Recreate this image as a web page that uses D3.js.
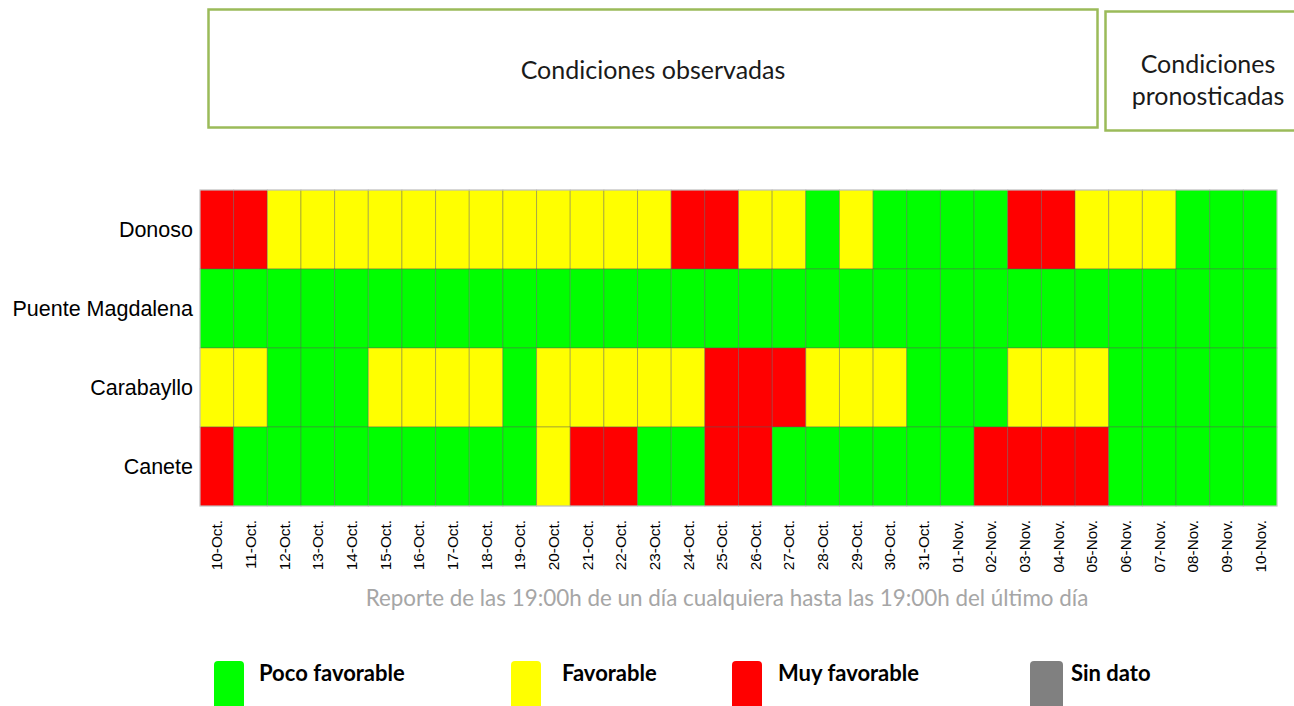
<!DOCTYPE html>
<html>
<head>
<meta charset="utf-8">
<script src="https://cdn.jsdelivr.net/npm/d3@7"></script>
<style>
  body { margin: 0; background: #fff; }
  svg { display: block; }
</style>
</head>
<body>
<div id="chart"></div>
<script>
var svgWidth = 1294;
var svgHeight = 706;

// Data
var fechas = ["10-Oct.", "11-Oct.", "12-Oct.", "13-Oct.", "14-Oct.", "15-Oct.", "16-Oct.", "17-Oct.",
  "18-Oct.", "19-Oct.", "20-Oct.", "21-Oct.", "22-Oct.", "23-Oct.", "24-Oct.", "25-Oct.", "26-Oct.",
  "27-Oct.", "28-Oct.", "29-Oct.", "30-Oct.", "31-Oct.", "01-Nov.", "02-Nov.", "03-Nov.", "04-Nov.",
  "05-Nov.", "06-Nov.", "07-Nov.", "08-Nov.", "09-Nov.", "10-Nov."];

var estaciones = ["Donoso", "Puente Magdalena", "Carabayllo", "Canete"];

// P = Poco favorable, F = Favorable, M = Muy favorable, S = Sin dato
var donoso = ["M","M","F","F","F","F","F","F","F","F","F","F","F","F","M","M",
  "F","F","P","F","P","P","P","P","M","M","F","F","F","P","P","P"];
var puenteMagdalena = ["P","P","P","P","P","P","P","P","P","P","P","P","P","P","P","P",
  "P","P","P","P","P","P","P","P","P","P","P","P","P","P","P","P"];
var carabayllo = ["F","F","P","P","P","F","F","F","F","P","F","F","F","F","F","M",
  "M","M","F","F","F","P","P","P","F","F","F","P","P","P","P","P"];
var canete = ["M","P","P","P","P","P","P","P","P","P","F","M","M","P","P","M",
  "M","P","P","P","P","P","P","M","M","M","M","P","P","P","P","P"];

var categorias = ["P", "F", "M", "S"];
var categoriaNombres = ["Poco favorable", "Favorable", "Muy favorable", "Sin dato"];
var categoriaColores = ["#00ff00", "#ffff00", "#ff0000", "#808080"];

var series = [donoso, puenteMagdalena, carabayllo, canete];

// build cells
var celdas = [];
estaciones.forEach(function (est, i) {
  series[i].forEach(function (v, j) {
    celdas.push({ estacion: est, fecha: fechas[j], valor: v });
  });
});

var svg = d3.select("#chart")
  .append("svg")
  .attr("width", svgWidth)
  .attr("height", svgHeight);

var color = d3.scaleOrdinal().domain(categorias).range(categoriaColores);

var x = d3.scaleBand().domain(fechas).range([200, 1277]).padding(0);
var y = d3.scaleBand().domain(estaciones).range([190, 506]).padding(0);

// header boxes
svg.append("rect")
  .attr("x", 208.5).attr("y", 9.5)
  .attr("width", 889).attr("height", 118)
  .attr("fill", "none")
  .attr("stroke", "#9bbb59")
  .attr("stroke-width", 2.5);

svg.append("text")
  .attr("x", 653).attr("y", 79)
  .attr("text-anchor", "middle")
  .style("font-family", "Lato, 'Open Sans', sans-serif")
  .style("font-size", "25px")
  .attr("fill", "#1a1a1a")
  .text("Condiciones observadas");

svg.append("rect")
  .attr("x", 1105.5).attr("y", 11.5)
  .attr("width", 200).attr("height", 119)
  .attr("fill", "none")
  .attr("stroke", "#9bbb59")
  .attr("stroke-width", 2.5);

var pron = svg.append("text")
  .attr("x", 1208).attr("y", 73)
  .attr("text-anchor", "middle")
  .style("font-family", "Lato, 'Open Sans', sans-serif")
  .style("font-size", "25px")
  .attr("fill", "#1a1a1a");
pron.append("tspan").attr("x", 1208).text("Condiciones");
pron.append("tspan").attr("x", 1208).attr("dy", 32).text("pronosticadas");

// heatmap cells
svg.append("g")
  .selectAll("rect")
  .data(celdas)
  .enter()
  .append("rect")
  .attr("x", d => x(d.fecha))
  .attr("y", d => y(d.estacion))
  .attr("width", x.bandwidth())
  .attr("height", y.bandwidth())
  .attr("fill", d => color(d.valor))
  .attr("stroke", "rgba(90,90,90,0.4)")
  .attr("stroke-width", 1);

// outer border
svg.append("rect")
  .attr("x", 200).attr("y", 190)
  .attr("width", 1077).attr("height", 316)
  .attr("fill", "none")
  .attr("stroke", "#d0d0d0")
  .attr("stroke-width", 1);

// station labels
svg.append("g")
  .selectAll("text")
  .data(estaciones)
  .enter()
  .append("text")
  .attr("x", 193)
  .attr("y", d => y(d) + y.bandwidth() / 2)
  .attr("dy", "0.35em")
  .attr("text-anchor", "end")
  .style("font-family", "'Liberation Sans', Arial, sans-serif")
  .style("font-size", "21.5px")
  .attr("fill", "#000")
  .text(d => d);

// date labels (rotated)
svg.append("g")
  .selectAll("text")
  .data(fechas)
  .enter()
  .append("text")
  .attr("transform", d => `translate(${x(d) + x.bandwidth() / 2 + 5.5}, 520) rotate(-90)`)
  .attr("text-anchor", "end")
  .style("font-family", "'Liberation Sans', Arial, sans-serif")
  .style("font-size", "15.3px")
  .attr("fill", "#000")
  .text(d => d);

// footnote
svg.append("text")
  .attr("x", 727).attr("y", 606)
  .attr("text-anchor", "middle")
  .style("font-family", "Lato, 'Open Sans', sans-serif")
  .style("font-size", "22.4px")
  .attr("fill", "#a6a6a6")
  .text("Reporte de las 19:00h de un día cualquiera hasta las 19:00h del último día");

// legend
var legendX = [214, 511, 732, 1030];
var legendTextX = [259, 562, 778, 1071];
var legend = svg.append("g")
  .selectAll("g")
  .data(categorias)
  .enter()
  .append("g");

legend.append("rect")
  .attr("x", (d, i) => legendX[i])
  .attr("y", 661)
  .attr("width", (d, i) => i === 3 ? 33 : 30)
  .attr("height", 50)
  .attr("rx", 4)
  .attr("fill", d => color(d));

legend.append("text")
  .attr("x", (d, i) => legendTextX[i])
  .attr("y", 681)
  .style("font-family", "Lato, 'Open Sans', sans-serif")
  .style("font-size", "22px")
  .style("font-weight", "bold")
  .attr("fill", "#000")
  .text((d, i) => categoriaNombres[i]);
</script>
</body>
</html>
